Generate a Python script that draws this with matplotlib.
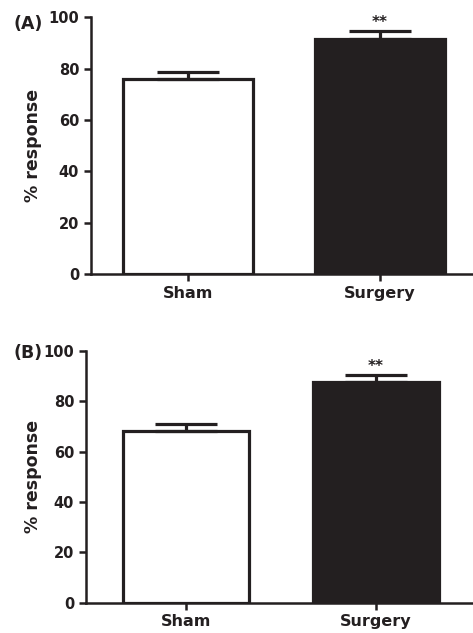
import matplotlib.pyplot as plt
import numpy as np

# Group names and mean / SEM values
groups = ['Sham', 'Surgery']
mean_a = [76.0, 91.7]
sem_a = [2.6, 2.9]
mean_b = [68.3, 87.6]
sem_b = [2.6, 2.6]
bar_colors = ['white', '#231f20']
dark = '#231f20'

fig = plt.figure(figsize=(4.73, 6.33), dpi=100)

def panel(rect, means, sems, letter, xlim, width, letter_xy, ylab_x):
    ax = fig.add_axes(rect)
    x = np.arange(len(groups))
    ax.bar(x, means, width=width, color=bar_colors, edgecolor=dark,
           linewidth=2.3, zorder=2)
    # only the upper half of the error bar is shown
    ax.errorbar(x, means, yerr=[np.zeros(len(sems)), sems], fmt='none',
                ecolor=dark, elinewidth=2.3, capsize=22, capthick=2.3, zorder=3)
    ax.text(1, means[1] + sems[1] + 0.5, '**', ha='center', va='bottom',
            fontsize=11, fontweight='bold', color=dark)
    ax.set_xlim(*xlim)
    ax.set_ylim(0, 100)
    ax.set_yticks([0, 20, 40, 60, 80, 100])
    ax.set_xticks(x)
    ax.set_xticklabels(groups, fontsize=11.5)
    for s in ['top', 'right']:
        ax.spines[s].set_visible(False)
    for s in ['left', 'bottom']:
        ax.spines[s].set_linewidth(1.8)
        ax.spines[s].set_color(dark)
    ax.tick_params(width=1.8, length=5, color=dark, labelcolor=dark)
    ax.tick_params(axis='y', labelsize=10.5)
    for lab in ax.get_xticklabels() + ax.get_yticklabels():
        lab.set_fontweight('bold')
    ax.set_ylabel('% response', fontsize=12.5, fontweight='bold', color=dark)
    ax.yaxis.set_label_coords(ylab_x, 0.5)
    ax.text(letter_xy[0], letter_xy[1], letter, transform=ax.transAxes,
            ha='left', va='center', fontsize=12.5, fontweight='bold', color=dark)
    return ax

panel([0.1924, 0.5671, 0.8076, 0.4053], mean_a, sem_a, '(A)',
      (-0.505, 1.484), 0.68, (-0.202, 0.975), -0.128)
panel([0.1818, 0.0479, 0.8161, 0.3980], mean_b, sem_b, '(B)',
      (-0.526, 1.505), 0.66, (-0.188, 0.99), -0.114)

fig.savefig('out.png', dpi=100)
